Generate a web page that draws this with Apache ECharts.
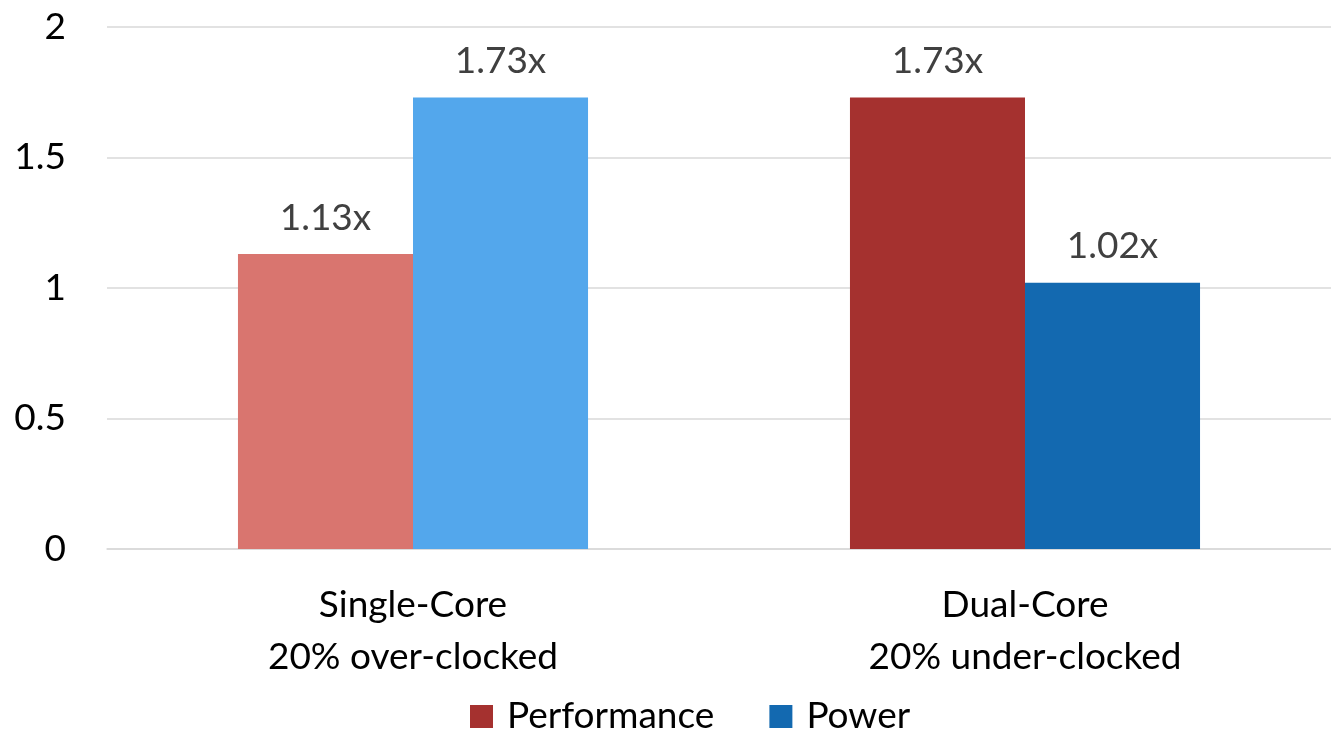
<!DOCTYPE html>
<html>
<head>
<meta charset="utf-8">
<script src="https://cdn.jsdelivr.net/npm/echarts@6/dist/echarts.min.js"></script>
<style>
  html, body { margin: 0; padding: 0; background: #fff; }
  #chart { width: 1331px; height: 736px; }
</style>
</head>
<body>
<div id="chart"></div>
<script>
// Relative performance and power of the two configurations
const categories = ['Single-Core\n20% over-clocked', 'Dual-Core\n20% under-clocked'];
const seriesNames = ['Performance', 'Power'];
const performance = [1.13, 1.73];
const power = [1.73, 1.02];
const yTicks = { min: 0, max: 2, interval: 0.5 };

const FONT = 'Lato, "Open Sans", sans-serif';
const FONT_SIZE = 37;
const perfColors = ['#D9756F', '#A5312F'];
const powerColors = ['#53A7EC', '#1369B0'];

const labelStyle = {
  show: true,
  position: 'top',
  distance: 18,
  color: '#404040',
  fontFamily: FONT,
  fontSize: FONT_SIZE,
  formatter: p => p.value.toFixed(2) + 'x'
};

function items(values, colors) {
  return values.map((v, i) => ({ value: v, itemStyle: { color: colors[i] } }));
}

const chart = echarts.init(document.getElementById('chart'));
chart.setOption({
  animation: false,
  grid: { left: 107, right: 0, top: 27, bottom: 187 },
  legend: {
    data: seriesNames,
    top: 698,
    left: 470,
    padding: 0,
    itemWidth: 23,
    itemHeight: 23,
    itemGap: 55,
    icon: 'rect',
    textStyle: { color: '#000', fontFamily: FONT, fontSize: FONT_SIZE, padding: [0, 0, 0, 9] }
  },
  xAxis: {
    type: 'category',
    data: categories,
    axisTick: { show: false },
    axisLine: { lineStyle: { color: '#d9d9d9', width: 1.5 } },
    axisLabel: { color: '#000', fontFamily: FONT, fontSize: FONT_SIZE, lineHeight: 52, margin: 30 }
  },
  yAxis: {
    type: 'value',
    min: yTicks.min,
    max: yTicks.max,
    interval: yTicks.interval,
    axisLine: { show: false },
    axisTick: { show: false },
    splitLine: { lineStyle: { color: '#d9d9d9', width: 1.5 } },
    axisLabel: { color: '#000', fontFamily: FONT, fontSize: FONT_SIZE, margin: 41 }
  },
  series: [
    {
      name: seriesNames[0],
      type: 'bar',
      barGap: 0,
      barCategoryGap: '42.8%',
      itemStyle: { color: perfColors[1] },
      label: labelStyle,
      data: items(performance, perfColors)
    },
    {
      name: seriesNames[1],
      type: 'bar',
      barGap: 0,
      barCategoryGap: '42.8%',
      itemStyle: { color: powerColors[1] },
      label: labelStyle,
      data: items(power, powerColors)
    }
  ]
});
</script>
</body>
</html>
